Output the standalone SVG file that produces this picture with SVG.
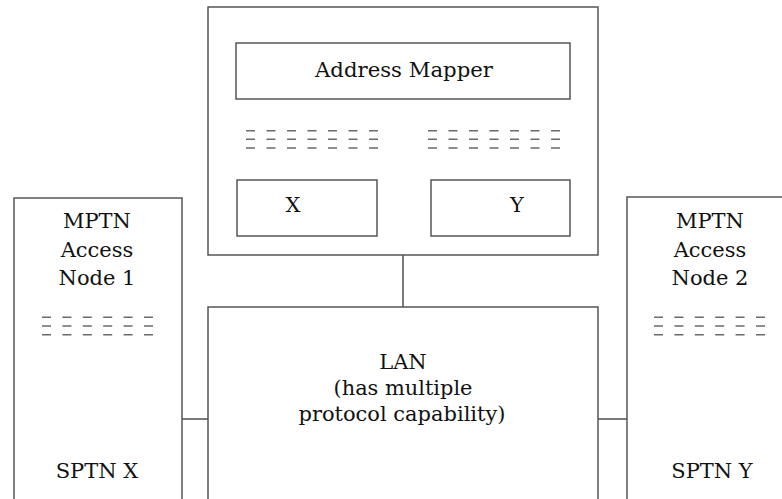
<svg xmlns="http://www.w3.org/2000/svg" width="782" height="499" viewBox="0 0 782 499">
<style>
.box{fill:#fff;stroke:#555;stroke-width:1.5}
.conn{stroke:#222;stroke-width:1.2;fill:none}
.dash{stroke:#6a6a6a;stroke-width:1.6;stroke-dasharray:9 11.5;fill:none}
.t{font-family:"DejaVu Serif",serif;font-size:21px;fill:#111;text-anchor:middle}
</style>
<g id="connectors">
<line class="conn" x1="403" y1="255" x2="403" y2="307"/>
<line class="conn" x1="182" y1="419" x2="208" y2="419"/>
<line class="conn" x1="598" y1="419" x2="627" y2="419"/>
</g>
<g id="mapper-host">
<rect class="box" x="208" y="7" width="390" height="248"/>
<path class="dash" d="M246 130.7H378M246 139.3H378M246 148H378"/>
<path class="dash" d="M428 130.7H560M428 139.3H560M428 148H560"/>
</g>
<g id="address-mapper">
<rect class="box" x="236" y="43" width="334" height="56"/>
<text class="t" x="404" y="77" textLength="178" lengthAdjust="spacingAndGlyphs">Address Mapper</text>
</g>
<g id="x-box">
<rect class="box" x="237" y="180" width="140" height="56"/>
<text class="t" x="293" y="212">X</text>
</g>
<g id="y-box">
<rect class="box" x="431" y="180" width="139" height="56"/>
<text class="t" x="517" y="212">Y</text>
</g>
<g id="lan">
<rect class="box" x="208" y="307" width="390" height="210"/>
<text class="t" x="403" y="369">LAN</text>
<text class="t" x="403" y="395" textLength="139" lengthAdjust="spacingAndGlyphs">(has multiple</text>
<text class="t" x="402" y="421" textLength="207" lengthAdjust="spacingAndGlyphs">protocol capability)</text>
</g>
<g id="access-node-1">
<rect class="box" x="14" y="198" width="168" height="320"/>
<text class="t" x="97" y="228">MPTN</text>
<text class="t" x="97" y="257">Access</text>
<text class="t" x="97" y="285">Node 1</text>
<path class="dash" d="M42 317.3H153M42 326H153M42 334.7H153" style="stroke-dasharray:9 11.4"/>
<text class="t" x="97" y="478">SPTN X</text>
</g>
<g id="access-node-2">
<rect class="box" x="627" y="197" width="200" height="320"/>
<text class="t" x="710" y="228">MPTN</text>
<text class="t" x="710" y="257">Access</text>
<text class="t" x="710" y="285">Node 2</text>
<path class="dash" d="M654 317.3H765M654 326H765M654 334.7H765" style="stroke-dasharray:9 11.4"/>
<text class="t" x="712" y="478">SPTN Y</text>
</g>
</svg>
